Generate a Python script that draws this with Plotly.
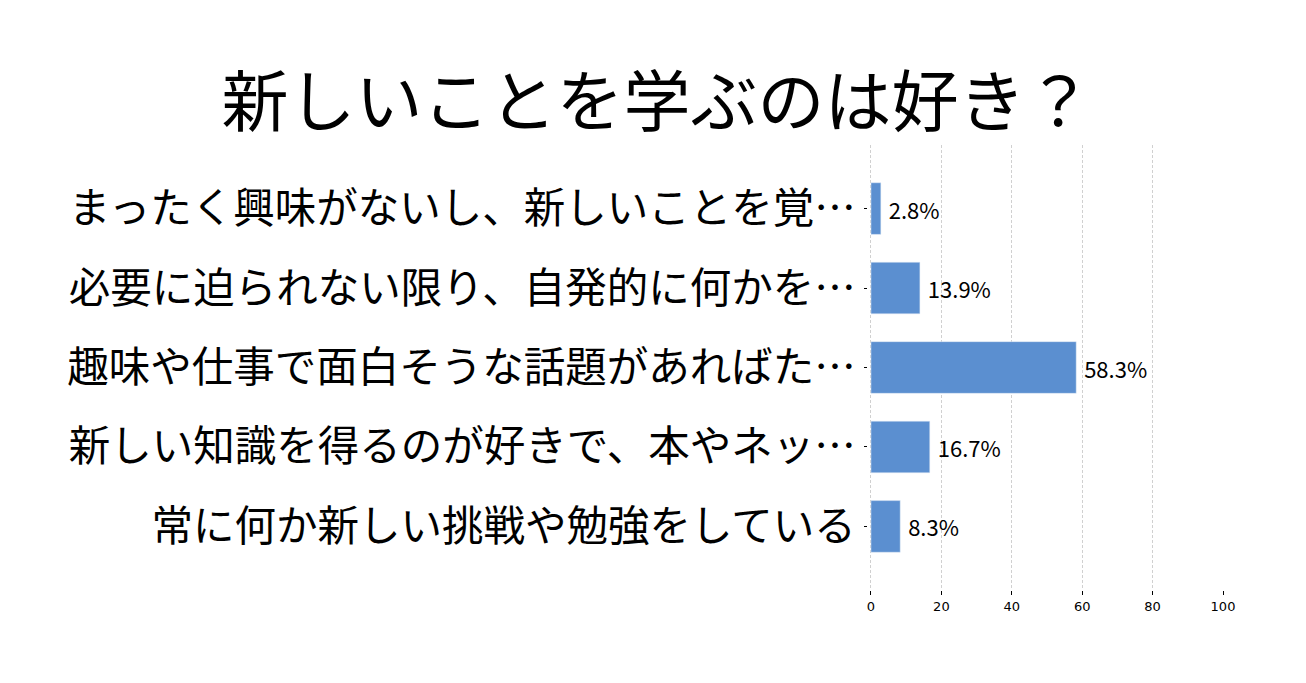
import plotly.graph_objects as go

categories = [
    "まったく興味がないし、新しいことを覚…",
    "必要に迫られない限り、自発的に何かを…",
    "趣味や仕事で面白そうな話題があればた…",
    "新しい知識を得るのが好きで、本やネッ…",
    "常に何か新しい挑戦や勉強をしている",
]
values = [2.8, 13.9, 58.3, 16.7, 8.3]
labels = [f" {v}%" for v in values]
x_ticks = [0, 20, 40, 60, 80, 100]

fig = go.Figure(go.Bar(
    x=values, y=categories, orientation="h",
    marker=dict(color="#5b8fd0"),
    width=0.65,
    text=labels, textposition="outside",
    textfont=dict(family="Noto Sans CJK JP", size=22, color="#000"),
    cliponaxis=False,
))

fig.update_layout(
    width=1306, height=683,
    paper_bgcolor="white", plot_bgcolor="white",
    margin=dict(l=868, r=83, t=145, b=93, autoexpand=False),
    title=dict(text="新しいことを学ぶのは好き？", x=0.503, xanchor="center",
               y=0.815, yanchor="bottom",
               font=dict(family="Noto Sans CJK JP", size=67, color="#000")),
    showlegend=False,
    xaxis=dict(range=[-0.85, 100], tickvals=x_ticks, showgrid=True,
               gridcolor="#d0d0d0", griddash="3px,2px", gridwidth=1,
               ticks="outside", ticklen=4, tickcolor="#000",
               tickfont=dict(family="DejaVu Sans", size=13, color="#000"),
               showline=False, zeroline=False, automargin=False),
    yaxis=dict(autorange=False, range=[4.8, -0.8], type="category",
               ticks="outside", ticklen=3, tickcolor="#000",
               tickfont=dict(family="Noto Sans CJK JP", size=41.5, color="#000"),
               showline=False, showgrid=False, ticklabelstandoff=0,
               automargin=False),
    bargap=0.35,
)

fig.write_html("out.html")
